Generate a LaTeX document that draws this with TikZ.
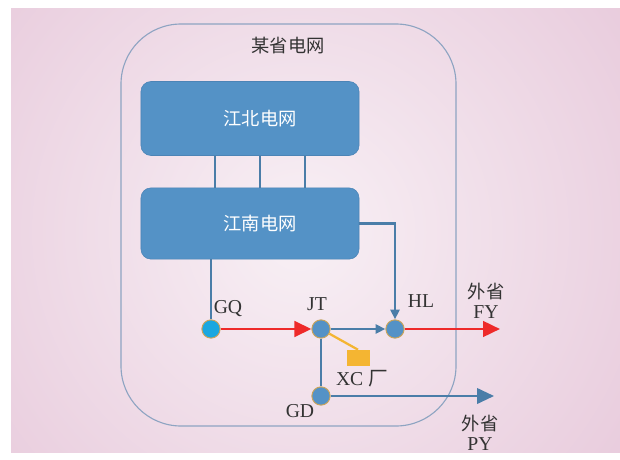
\documentclass[tikz,border=0pt]{standalone}
\usepackage{fontspec}
\setmainfont{Liberation Serif}
\newfontfamily\cjk{Noto Sans CJK SC}
\usetikzlibrary{arrows.meta}

\definecolor{bgpink}{HTML}{E6C6D9}
\definecolor{bglight}{HTML}{F8F0F5}
\definecolor{gridblue}{HTML}{5492C6}
\definecolor{gridedge}{HTML}{4C84B6}
\definecolor{lineblue}{HTML}{4A7DA8}
\definecolor{frameblue}{HTML}{8EA4C2}
\definecolor{busred}{HTML}{EE2A2A}
\definecolor{rimgold}{HTML}{C9A35A}
\definecolor{gqcyan}{HTML}{1AA7E0}
\definecolor{plantorange}{HTML}{F4B532}
\definecolor{txtgray}{HTML}{333333}

\tikzset{
  gridbox/.style={draw=gridedge,fill=gridblue,rounded corners=0.25cm,
    minimum width=5.45cm,text=white,font=\cjk\fontsize{13}{16}\selectfont},
  bus/.style={circle,draw=rimgold,line width=0.7pt,fill=gridblue,
    minimum size=13pt,inner sep=0pt},
  link/.style={draw=lineblue,line width=1.5pt},
  flowred/.style={draw=busred,line width=2pt,-{Triangle[length=12pt,width=11pt]}},
  flowblue/.style={link,-{Triangle[length=7pt,width=6.5pt]}},
  lbl/.style={text=txtgray,font=\fontsize{14}{16}\selectfont},
  cjklbl/.style={text=txtgray,font=\cjk\fontsize{13}{15}\selectfont,align=center}
}

\begin{document}
\begin{tikzpicture}[x=0.025cm,y=-0.025cm]
  \useasboundingbox (0,0) rectangle (620,460);
  % background
  \fill[bgpink] (11,8) rectangle (620,452);
  \begin{scope}
    \clip (11,8) rectangle (620,452);
    \shade[inner color=bglight,outer color=bgpink] (300,232) circle (460);
  \end{scope}
  % province frame
  \draw[frameblue,line width=0.8pt,rounded corners=1.5cm] (121,24) rectangle (456,426);
  \node[cjklbl] (title) at (288,46) {某省电网};

  \node[gridbox,minimum height=1.85cm] (north) at (250,118.5) {\hspace*{0.5cm}江北电网};
  \node[gridbox,minimum height=1.78cm] (south) at (250,223.5) {\hspace*{0.5cm}江南电网};
  \foreach \x in {215,260,305}
    \draw[link] (north.south -| \x,0) -- (south.north -| \x,0);

  % buses
  \node[bus,fill=gqcyan] (GQ) at (211,329) {};
  \node[bus] (JT) at (321,329) {};
  \node[bus] (HL) at (395,329) {};
  \node[bus] (GD) at (321,396) {};
  \node[fill=plantorange,minimum width=23*0.025cm,minimum height=16*0.025cm,
    inner sep=0pt] (XC) at (358,358) {};
  \coordinate (FYend) at (500,329);
  \coordinate (PYend) at (494,396);

  \draw[link] (GQ |- south.south) -- (GQ);
  \draw[flowblue] (south.east) -| (HL);
  \draw[link] (JT) -- (GD);
  \draw[draw=plantorange,line width=1.6pt] (JT) -- (XC.north);
  \draw[flowred] (GQ) -- (JT);
  \draw[flowblue] (JT) -- (HL);
  \draw[flowred] (HL) -- (FYend);
  \draw[link,-{Triangle[length=12pt,width=11pt]}] (GD) -- (PYend);

  % labels
  \node[lbl] (GQlbl) at (228,309) {GQ};
  \node[lbl] (JTlbl) at (317,304) {JT};
  \node[lbl] (HLlbl) at (421,301) {HL};
  \node[lbl] (GDlbl) at (300,411) {GD};
  \node[lbl] (XClbl) at (362,379) {XC {\cjk 厂}};
  \node[cjklbl] (FYlbl) at (486,301) {外省\\[-1pt]{\fontspec{Liberation Serif}\fontsize{14}{16}\selectfont FY}};
  \node[cjklbl] (PYlbl) at (480,433) {外省\\[-1pt]{\fontspec{Liberation Serif}\fontsize{14}{16}\selectfont PY}};
\end{tikzpicture}
\end{document}
